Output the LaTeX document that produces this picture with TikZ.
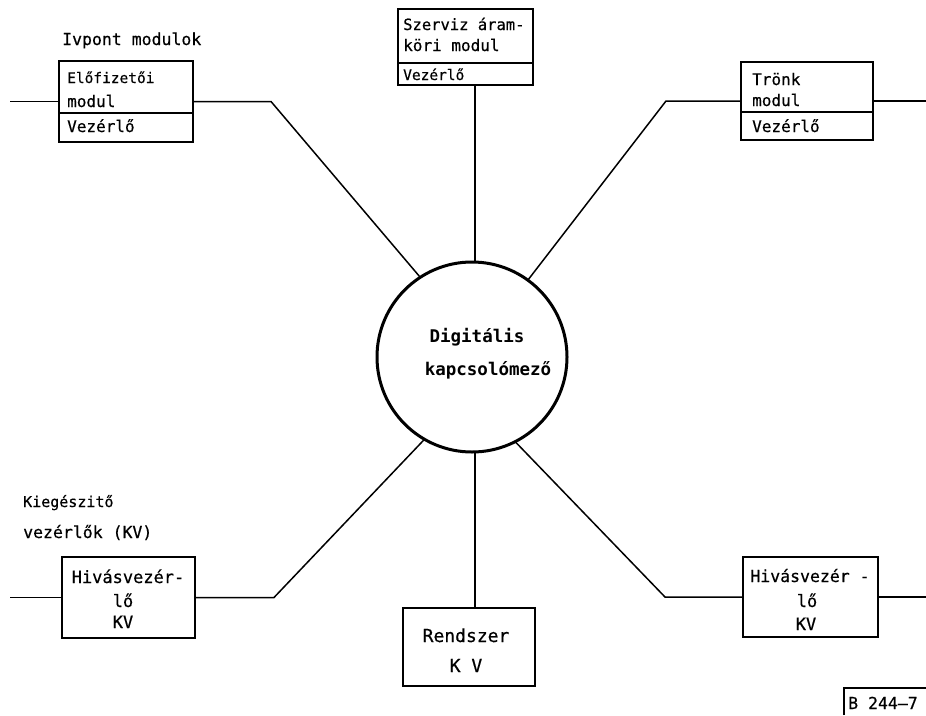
\documentclass[tikz,border=0pt]{standalone}
\usepackage{fontspec}
\setmainfont{DejaVu Sans Mono}[FakeBold=0.5]
\newfontfamily\boldlett{DejaVu Sans Mono Bold}
\begin{document}
\begin{tikzpicture}[x=1pt,y=-1pt,
  box/.style={draw, line width=2.6pt, inner sep=0pt, outer sep=0pt, anchor=north west},
  conn/.style={line width=1.5pt},
  divl/.style={line width=1.9pt},
  t/.style={inner sep=0pt, anchor=base west, font=\fontsize{#1}{#1}\selectfont},
  tc/.style={inner sep=0pt, anchor=base, font=\fontsize{#1}{#1}\selectfont},
  bt/.style={inner sep=0pt, anchor=base, font=\boldlett\fontsize{#1}{#1}\selectfont},
]
\useasboundingbox (0,0) rectangle (926,715);

% central circle
\node[draw, circle, line width=3pt, minimum size=190pt, inner sep=0pt, outer sep=0pt] (dig) at (472,357) {};
\node[bt=17.5] (dig1) at (477,342) {Digitális};
\node[bt=17.5] (dig2) at (488,375) {kapcsolómező};

% top-left box
\node[t=16.5] (title1) at (62,45) {Ivpont modulok};
\node[box, minimum width=134pt, minimum height=81pt] (tl) at (59,61) {};
\draw[divl] (59,113) -- (193,113);
\node[t=14.5] (tl1) at (67,83) {Előfizetői};
\node[t=16] (tl2) at (67,107) {modul};
\node[t=16] (tl3) at (67,132) {Vezérlő};

% top-centre box
\node[box, minimum width=135pt, minimum height=76pt] (tcb) at (398,9) {};
\draw[divl] (398,63) -- (533,63);
\node[t=15.5] (tc1) at (403,30) {Szerviz áram-};
\node[t=16] (tc2) at (403,51) {köri modul};
\node[t=14.5] (tc3) at (403,80) {Vezérlő};

% top-right box
\node[box, minimum width=132pt, minimum height=78pt] (tr) at (741,62) {};
\draw[divl] (741,112) -- (873,112);
\node[t=16] (tr1) at (752,85) {Trönk};
\node[t=16] (tr2) at (752,106) {modul};
\node[t=16] (tr3) at (752,132) {Vezérlő};

% bottom-left box
\node[t=15] (kv1) at (23,507) {Kiegészitő};
\node[t=16.5] (kv2) at (23,538) {vezérlők (KV)};
\node[box, minimum width=133pt, minimum height=81pt] (bl) at (62,557) {};
\node[tc=17] (bl1) at (128,583) {Hivásvezér-};
\node[tc=17] (bl2) at (123,607) {lő};
\node[tc=17] (bl3) at (123,628) {KV};

% bottom-centre box
\node[box, minimum width=132pt, minimum height=78pt] (rk) at (403,608) {};
\node[tc=18] (rk1) at (466,642) {Rendszer};
\node[tc=18] (rk2) at (466,672) {K V};

% bottom-right box
\node[box, minimum width=135pt, minimum height=80pt] (br) at (743,557) {};
\node[tc=16.5] (br1) at (810,582) {Hivásvezér -};
\node[tc=17] (br2) at (807,607) {lő};
\node[tc=17] (br3) at (806,630) {KV};

% drawing number
\draw[line width=1.2pt] (844,715) -- (844,688) -- (926,688);
\node[t=16.5] (num) at (848,709) {B 244–7};

% free ends and corners
\coordinate (ltl) at (10,101.5);
\coordinate (ctl) at (271,101.5);
\coordinate (ctr) at (666,101);
\coordinate (rtr) at (926,101);
\coordinate (lbl) at (10,597.5);
\coordinate (cbl) at (274,597.5);
\coordinate (cbr) at (665,597);
\coordinate (rbr) at (926,597);

% connectors
\draw[conn] (ltl) -- (tl.west);
\draw[conn] (tl.east) -- (ctl) -- (dig.123.5);
\draw[conn] (tcb.south -| 475,0) -- (dig.north -| 475,0);
\draw[conn] (dig.54.5) -- (ctr) -- (tr.west);
\draw[conn] (tr.east) -- (rtr);
\draw[conn] (lbl) -- (bl.west);
\draw[conn] (bl.east) -- (cbl) -- (dig.240.3);
\draw[conn] (dig.south -| 475,0) -- (rk.north -| 475,0);
\draw[conn] (dig.297.1) -- (cbr) -- (br.west);
\draw[conn] (br.east) -- (rbr);
\end{tikzpicture}
\end{document}
